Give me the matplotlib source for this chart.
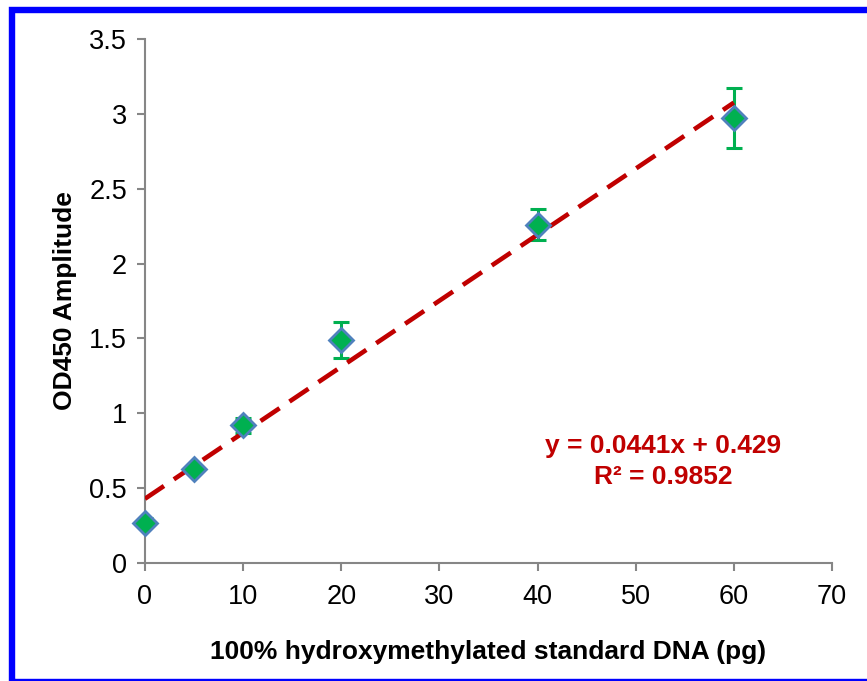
import numpy as np
import matplotlib
matplotlib.use('Agg')
import matplotlib.pyplot as plt
from matplotlib.patches import Rectangle

plt.rcParams['font.family'] = ['Liberation Sans', 'DejaVu Sans']

# standard curve data
dna_pg = [0, 5, 10, 20, 40, 60]
od450 = [0.27, 0.63, 0.92, 1.49, 2.26, 2.97]
od450_err = [0.03, 0.02, 0.05, 0.12, 0.105, 0.20]

slope = 0.0441
intercept = 0.429
r2 = 0.9852

fig = plt.figure(figsize=(8.67, 6.81), dpi=100)
ax = fig.add_axes([0.1672, 0.1733, 0.7924, 0.7694])

gray = '#868686'
xfit = np.array([min(dna_pg), max(dna_pg)])
ax.plot(xfit, slope * xfit + intercept, color='#C00000', lw=3.3,
        dashes=(5, 2.6), zorder=3)
ax.errorbar(dna_pg, od450, yerr=od450_err, fmt='none', ecolor='#00B050',
            elinewidth=2.2, capsize=6, capthick=2.2, zorder=2)
ax.plot(dna_pg, od450, 'D', ms=12, mfc='#00B050', mec='#4F81BD', mew=2,
        zorder=4, clip_on=False)

ax.set_xlim(0, 70)
ax.set_ylim(0, 3.5)
ax.set_xticks(np.arange(0, 71, 10))
ax.set_yticks(np.arange(0, 3.51, 0.5))
ax.set_yticklabels(['0', '0.5', '1', '1.5', '2', '2.5', '3', '3.5'])

for s in ['top', 'right']:
    ax.spines[s].set_visible(False)
for s in ['left', 'bottom']:
    ax.spines[s].set_color(gray)
    ax.spines[s].set_linewidth(1.5)
ax.tick_params(axis='both', direction='out', length=6, width=1.5, color=gray,
               labelsize=19.5, labelcolor='black')
ax.tick_params(axis='x', pad=9)
ax.tick_params(axis='y', pad=7)

ax.set_xlabel('100% hydroxymethylated standard DNA (pg)', fontsize=19,
              fontweight='bold', labelpad=22)
ax.set_ylabel('OD450 Amplitude', fontsize=19, fontweight='bold', labelpad=9)

ax.text(52.8, 0.68, f'y = {slope}x + {intercept}\nR² = {r2}',
        ha='center', va='center', color='#C00000', fontsize=19,
        fontweight='bold', linespacing=1.35)

fig.patches.append(Rectangle((12 / 867, -0.5 / 681), 1.0, 1 - 10 / 681 + 0.5 / 681,
                             transform=fig.transFigure, fill=False,
                             edgecolor='#0000FF', lw=4.6, zorder=10))

fig.savefig('out.png', dpi=100)
